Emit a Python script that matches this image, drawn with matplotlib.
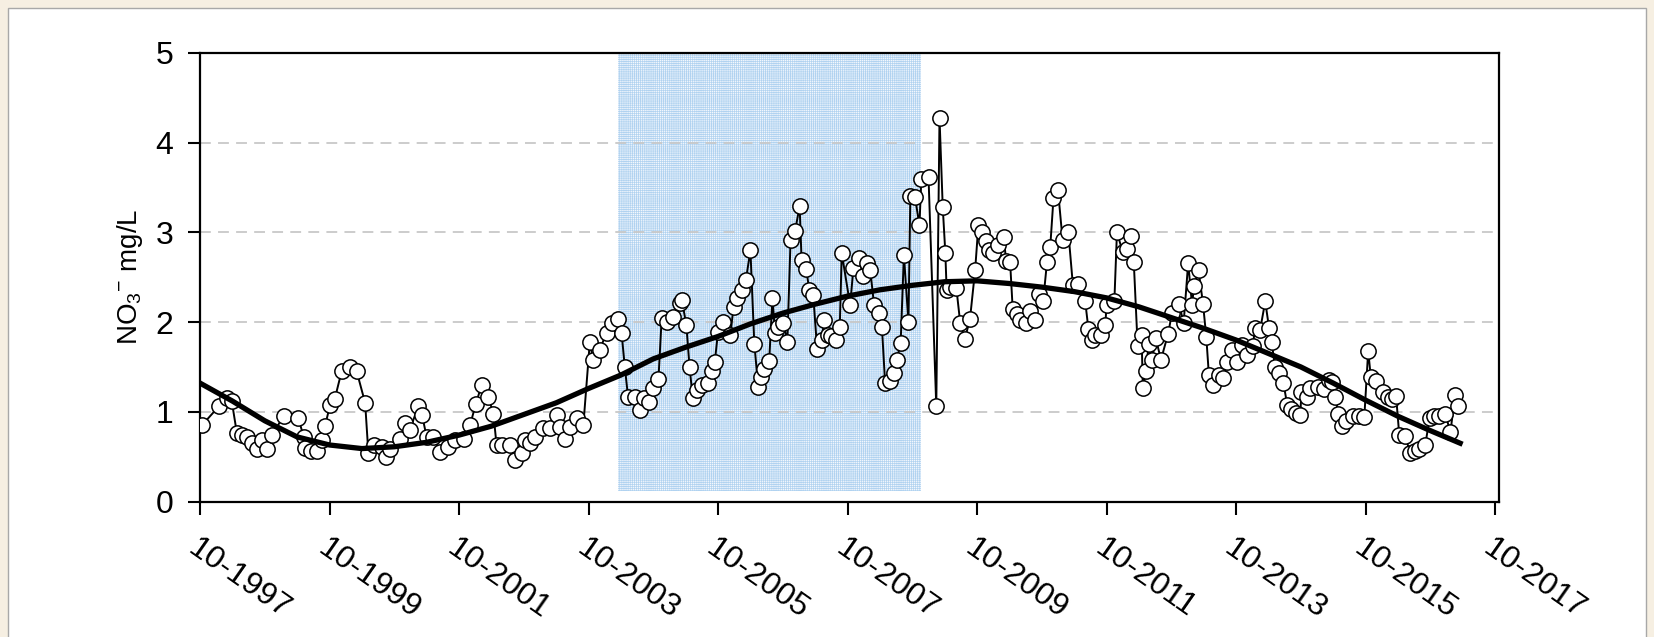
import matplotlib.pyplot as plt
import numpy as np
from matplotlib.patches import Rectangle

plt.rcParams['font.family'] = ['Liberation Sans', 'DejaVu Sans']
plt.rcParams['hatch.linewidth'] = 0.5

# temps en annees depuis 10-1997, concentration NO3- (mg/L)
t = [0.03, 0.29, 0.41, 0.49, 0.57, 0.65, 0.72, 0.80, 0.88, 0.95,
     1.03, 1.11, 1.29, 1.52, 1.60, 1.62, 1.72, 1.80, 1.88, 1.93,
     2.01, 2.08, 2.19, 2.32, 2.42, 2.55, 2.60, 2.68, 2.81, 2.88,
     2.93, 3.09, 3.17, 3.24, 3.37, 3.43, 3.50, 3.60, 3.71, 3.83,
     3.94, 4.07, 4.17, 4.26, 4.35, 4.45, 4.53, 4.58, 4.66, 4.79,
     4.86, 4.97, 5.02, 5.10, 5.17, 5.30, 5.41, 5.51, 5.56, 5.64,
     5.71, 5.82, 5.92, 6.02, 6.07, 6.17, 6.28, 6.36, 6.46, 6.51,
     6.56, 6.61, 6.72, 6.80, 6.85, 6.93, 7.00, 7.08, 7.13, 7.21,
     7.31, 7.41, 7.44, 7.51, 7.56, 7.61, 7.67, 7.75, 7.85, 7.90,
     7.95, 8.00, 8.08, 8.19, 8.24, 8.29, 8.37, 8.43, 8.50, 8.56,
     8.62, 8.66, 8.71, 8.79, 8.84, 8.88, 8.93, 9.01, 9.07, 9.12,
     9.19, 9.26, 9.29, 9.36, 9.41, 9.47, 9.53, 9.60, 9.64, 9.70,
     9.75, 9.82, 9.88, 9.91, 10.04, 10.09, 10.17, 10.24, 10.30, 10.35,
     10.41, 10.48, 10.53, 10.58, 10.66, 10.71, 10.76, 10.82, 10.87, 10.94,
     10.97, 11.04, 11.11, 11.14, 11.25, 11.37, 11.42, 11.47, 11.51, 11.53,
     11.58, 11.68, 11.74, 11.81, 11.89, 11.97, 12.02, 12.07, 12.14, 12.18,
     12.24, 12.33, 12.41, 12.45, 12.51, 12.55, 12.61, 12.66, 12.76, 12.82,
     12.90, 12.96, 13.02, 13.08, 13.13, 13.18, 13.25, 13.32, 13.41, 13.48,
     13.56, 13.67, 13.72, 13.77, 13.82, 13.91, 13.98, 14.00, 14.12, 14.16,
     14.25, 14.31, 14.37, 14.42, 14.48, 14.54, 14.56, 14.61, 14.65, 14.70,
     14.76, 14.84, 14.95, 15.01, 15.12, 15.19, 15.26, 15.32, 15.35, 15.42,
     15.49, 15.54, 15.58, 15.65, 15.73, 15.80, 15.86, 15.93, 16.01, 16.09,
     16.17, 16.26, 16.29, 16.37, 16.45, 16.51, 16.55, 16.60, 16.67, 16.73,
     16.79, 16.85, 16.92, 16.99, 17.01, 17.09, 17.14, 17.26, 17.35, 17.43,
     17.48, 17.53, 17.58, 17.63, 17.70, 17.80, 17.90, 17.98, 18.04, 18.08,
     18.16, 18.27, 18.34, 18.40, 18.47, 18.52, 18.61, 18.69, 18.76, 18.83,
     18.92, 18.99, 19.06, 19.14, 19.23, 19.31, 19.38, 19.42]
no3 = [0.85, 1.06, 1.15, 1.12, 0.76, 0.74, 0.72, 0.65, 0.59, 0.69,
       0.59, 0.74, 0.95, 0.93, 0.72, 0.60, 0.56, 0.56, 0.69, 0.84,
       1.08, 1.14, 1.46, 1.50, 1.45, 1.10, 0.54, 0.63, 0.61, 0.50,
       0.59, 0.70, 0.87, 0.80, 1.06, 0.96, 0.72, 0.72, 0.55, 0.61,
       0.69, 0.70, 0.85, 1.09, 1.30, 1.17, 0.98, 0.63, 0.63, 0.63,
       0.46, 0.54, 0.69, 0.65, 0.72, 0.82, 0.82, 0.96, 0.83, 0.70,
       0.83, 0.93, 0.85, 1.78, 1.58, 1.69, 1.88, 1.99, 2.03, 1.88,
       1.50, 1.17, 1.17, 1.02, 1.15, 1.11, 1.27, 1.37, 2.05, 2.00,
       2.06, 2.21, 2.25, 1.97, 1.50, 1.15, 1.24, 1.30, 1.32, 1.45,
       1.56, 1.89, 2.00, 1.86, 2.17, 2.27, 2.36, 2.47, 2.80, 1.76,
       1.28, 1.39, 1.48, 1.57, 2.27, 1.88, 1.95, 1.99, 1.78, 2.92,
       3.02, 3.29, 2.69, 2.59, 2.36, 2.30, 1.70, 1.80, 2.02, 1.86,
       1.84, 1.80, 1.95, 2.77, 2.19, 2.60, 2.71, 2.51, 2.66, 2.58,
       2.19, 2.10, 1.95, 1.32, 1.34, 1.43, 1.58, 1.77, 2.75, 2.00,
       3.41, 3.40, 3.08, 3.60, 3.62, 1.06, 4.28, 3.28, 2.77, 2.36,
       2.39, 2.38, 1.99, 1.81, 2.03, 2.58, 3.08, 3.01, 2.90, 2.80,
       2.77, 2.86, 2.95, 2.68, 2.67, 2.15, 2.09, 2.02, 1.99, 2.12,
       2.02, 2.31, 2.23, 2.67, 2.84, 3.38, 3.47, 2.92, 3.00, 2.41,
       2.42, 2.23, 1.92, 1.80, 1.86, 1.86, 1.97, 2.19, 2.23, 3.00,
       2.78, 2.82, 2.96, 2.67, 1.73, 1.86, 1.27, 1.45, 1.76, 1.58,
       1.82, 1.58, 1.87, 2.10, 2.20, 1.99, 2.66, 2.19, 2.40, 2.58,
       2.20, 1.83, 1.41, 1.30, 1.41, 1.38, 1.55, 1.69, 1.56, 1.74,
       1.63, 1.73, 1.93, 1.91, 2.23, 1.93, 1.78, 1.50, 1.43, 1.32,
       1.08, 1.03, 0.99, 0.96, 1.22, 1.17, 1.26, 1.28, 1.25, 1.35,
       1.33, 1.17, 0.98, 0.84, 0.90, 0.95, 0.95, 0.94, 1.68, 1.39,
       1.34, 1.22, 1.17, 1.14, 1.18, 0.74, 0.73, 0.54, 0.56, 0.59,
       0.63, 0.93, 0.95, 0.95, 0.98, 0.77, 1.19, 1.06]

# courbe de tendance
t_trend = [0.0, 0.5, 1.0, 1.5, 2.0, 2.5, 3.0, 3.5, 4.0, 4.5,
           5.0, 5.5, 6.0, 6.5, 7.0, 7.5, 8.0, 8.5, 9.0, 9.5,
           10.0, 10.5, 11.0, 11.5, 12.0, 12.5, 13.0, 13.5, 14.0, 14.5,
           15.0, 15.5, 16.0, 16.5, 17.0, 17.5, 18.0, 18.5, 19.0, 19.46]
trend = [1.32, 1.12, 0.90, 0.72, 0.63, 0.59, 0.61, 0.66, 0.74, 0.84,
         0.97, 1.10, 1.26, 1.41, 1.59, 1.72, 1.84, 1.98, 2.10, 2.20,
         2.29, 2.36, 2.41, 2.45, 2.46, 2.43, 2.39, 2.34, 2.27, 2.17,
         2.05, 1.93, 1.80, 1.65, 1.50, 1.32, 1.13, 0.95, 0.79, 0.65]

tick_pos = [0, 2, 4, 6, 8, 10, 12, 14, 16, 18, 20]
tick_labels = ["10-1997", "10-1999", "10-2001", "10-2003", "10-2005", "10-2007",
               "10-2009", "10-2011", "10-2013", "10-2015", "10-2017"]
periode = [6.45, 11.13]

W, H = 1654, 637
fig = plt.figure(figsize=(W / 100, H / 100), dpi=100, facecolor='#f6efe2')
fig.patches.append(Rectangle((8 / W, -0.05), (1646 - 8) / W, 1.05 - 8 / H,
                             transform=fig.transFigure, facecolor='white',
                             edgecolor='#a8a8a8', lw=1.0, zorder=-10))

ax = fig.add_axes([200 / W, (H - 501.5) / H, 1299 / W, 448.5 / H])
ax.set_zorder(5)

# periode hachuree
ax.axvspan(periode[0], periode[1], ymin=0.12 / 5, ymax=1, facecolor='#f2f7fd',
           edgecolor='#b0d2f0', hatch='+' * 8, lw=0, zorder=1)

ax.plot(t, no3, '-o', color='black', lw=1.4, ms=11, mfc='white', mec='black',
        mew=1.1, zorder=3)
ax.plot(t_trend, trend, color='black', lw=3.8, zorder=4)

ax.set_xlim(0, 20.06)
ax.set_ylim(0, 5)
ax.set_yticks([0, 1, 2, 3, 4, 5])
ax.set_xticks(tick_pos)
ax.set_xticklabels(tick_labels, rotation=-35, ha='left', va='top',
                   rotation_mode='anchor')
ax.grid(axis='y', color='#c8c8c8', ls=(0, (6, 4)), lw=1.3)
ax.tick_params(axis='both', direction='out', length=9, width=1.5,
               labelsize=23, colors='black')
ax.tick_params(axis='x', pad=14)
ax.tick_params(axis='y', pad=10)
for s in ax.spines.values():
    s.set_linewidth(1.6)

ax.set_ylabel(r'NO$\mathregular{_3}$$\mathregular{^{-}}$ mg/L', fontsize=20,
              labelpad=8)

fig.savefig('out.png', dpi=100, facecolor=fig.get_facecolor())
